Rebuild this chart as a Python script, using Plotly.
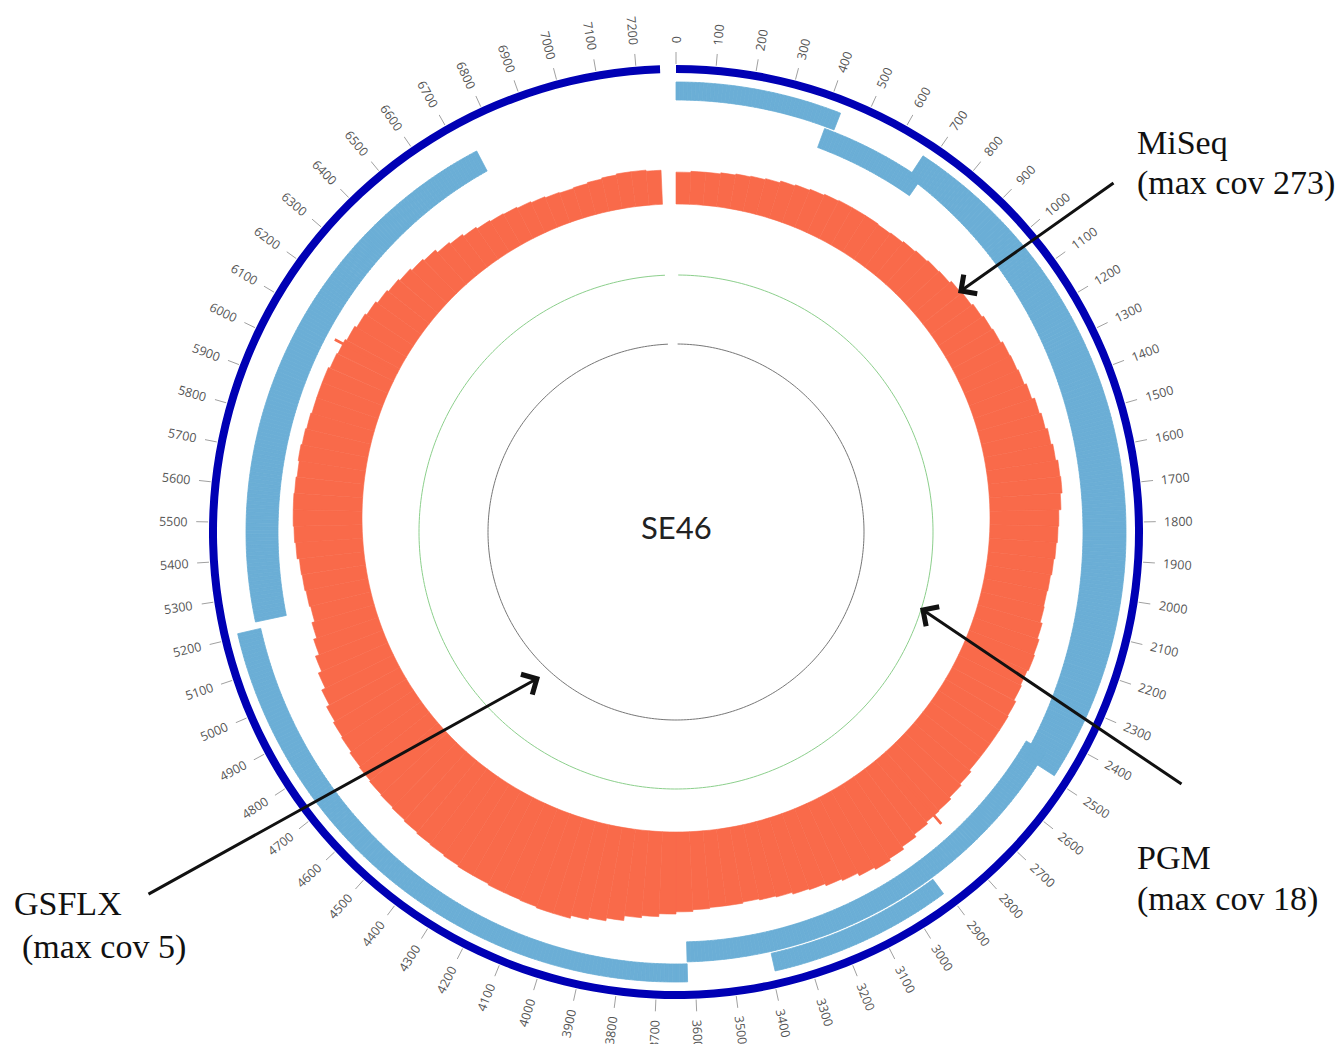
import numpy as np
import plotly.graph_objects as go

# ---------------- data ----------------
CIRCLE_BP = 7300          # bp represented by one full turn
GENOME_END = 7260         # end of the sequence (small gap before 0)

tick_positions = list(range(0, 7201, 100))
tick_labels = [str(v) for v in tick_positions]

band_starts = [0, 410, 675, 2450, 2910, 3620, 5230]
band_ends = [435, 705, 2490, 3620, 3392, 5210, 6740]
band_tracks = ["outer", "inner", "outer", "inner", "outer", "outer", "inner"]

# MiSeq coverage, 50 bp bins starting at 0
cov_bin_size = 50
miseq_cov = [87, 90, 90, 93, 96, 98, 101, 106, 109, 112,
             115, 117, 117, 117, 115, 117, 120, 123, 126, 128,
             134, 137, 142, 147, 150, 156, 158, 161, 167, 175,
             180, 186, 191, 197, 199, 194, 188, 186, 183, 180,
             177, 175, 177, 183, 188, 191, 188, 191, 197, 199,
             199, 199, 199, 205, 210, 216, 218, 224, 232, 240,
             246, 240, 232, 227, 221, 218, 213, 210, 207, 210,
             210, 213, 218, 224, 232, 238, 251, 259, 265, 273,
             273, 270, 268, 268, 265, 265, 262, 259, 257, 254,
             251, 248, 246, 243, 240, 235, 232, 227, 218, 207,
             197, 186, 177, 169, 172, 175, 177, 183, 186, 188,
             188, 186, 183, 186, 183, 180, 177, 177, 177, 172,
             169, 164, 158, 153, 147, 142, 137, 131, 126, 117,
             112, 106, 101, 98, 96, 93, 90, 87, 85, 87,
             90, 93, 96, 96, 93]
# isolated single-position peaks
spike_positions = [2820, 6035]
spike_cov = [248, 194]
MISEQ_MAX = 273
center_label = "SE46"

# ---------------- geometry / style ----------------
W, H = 1342, 1044
CX, CY = 676, 532          # centre of backbone / feature rings (px)
CY_COV = 518               # centre of the coverage ring (px)
R = 480
TRACK = {"outer": (432, 450), "inner": (410, 430)}
band_extra = [0, 2, 25, 3, 0, 6, 12]    # extra thickness towards the sides
COV_BASE, COV_SPAN = 314, 100
RED, LIGHTBLUE = "#F96A4A", "#6BAED6"


def deg(bp):
    return np.asarray(bp, dtype=float) / CIRCLE_BP * 360.0


def to_paper(r, theta_deg):
    t = np.radians(theta_deg)
    px = CX + r * np.sin(t)
    py = CY - r * np.cos(t)
    return px / W, 1 - py / H


fig = go.Figure()

# dark blue backbone
fig.add_trace(go.Barpolar(theta=[deg(GENOME_END / 2)], width=[deg(GENOME_END)],
                          base=[459], r=[8], marker=dict(color="#0000B4", line=dict(width=0)),
                          hoverinfo="skip"))

# light blue feature bands
for s, e, tr, ex in zip(band_starts, band_ends, band_tracks, band_extra):
    r0, r1 = TRACK[tr]
    edges = np.linspace(s, e, max(2, int((e - s) / 10) + 1))
    mids = (edges[:-1] + edges[1:]) / 2
    thick = (r1 - r0) + ex * np.sin(np.radians(deg(mids))) ** 2
    fig.add_trace(go.Barpolar(theta=deg(mids), width=deg(np.diff(edges)),
                              base=r1 - thick, r=thick,
                              marker=dict(color=LIGHTBLUE, line=dict(width=0.8, color=LIGHTBLUE)),
                              hoverinfo="skip"))

# PGM and GSFLX coverage (flat, very low)
th = np.linspace(deg(10), deg(GENOME_END - 10), 400)
fig.add_trace(go.Scatterpolar(theta=th, r=[257] * len(th), mode="lines",
                              line=dict(color="#8CCF8C", width=1), hoverinfo="skip"))
fig.add_trace(go.Scatterpolar(theta=th, r=[188] * len(th), mode="lines",
                              line=dict(color="#777777", width=1), hoverinfo="skip"))

# tick marks
tt, tr_ = [], []
for p in tick_positions:
    tt += [float(deg(p)), float(deg(p)), None]
    tr_ += [468, 480, None]
fig.add_trace(go.Scatterpolar(theta=tt, r=tr_, mode="lines", line=dict(color="#A0A0A0", width=1),
                              hoverinfo="skip", connectgaps=False))

# MiSeq coverage ring (own polar subplot, slightly higher centre)
starts = np.arange(len(miseq_cov)) * cov_bin_size
ends = np.minimum(starts + cov_bin_size, GENOME_END)
fig.add_trace(go.Barpolar(theta=deg((starts + ends) / 2), width=deg(ends - starts),
                          base=[COV_BASE] * len(starts),
                          r=[c / MISEQ_MAX * COV_SPAN for c in miseq_cov],
                          marker=dict(color=RED, line=dict(width=0.6, color=RED)), hoverinfo="skip",
                          subplot="polar2"))
fig.add_trace(go.Barpolar(theta=deg(spike_positions), width=[deg(8)] * len(spike_positions),
                          base=[COV_BASE] * len(spike_positions),
                          r=[c / MISEQ_MAX * COV_SPAN for c in spike_cov],
                          marker=dict(color=RED, line=dict(width=0)), hoverinfo="skip",
                          subplot="polar2"))

annotations = []
for p, lab in zip(tick_positions, tick_labels):
    a = float(deg(p))
    rr = 488 + 3.7 * len(lab)
    x, y = to_paper(rr, a)
    ang = a - 90 if a < 180 else a - 270
    annotations.append(dict(x=x, y=y, xref="paper", yref="paper", text=lab, showarrow=False,
                            textangle=ang, font=dict(family="Open Sans", size=12.5, color="#555555"),
                            xanchor="center", yanchor="middle"))

annotations.append(dict(x=CX / W, y=1 - 527 / H, xref="paper", yref="paper", text=center_label,
                        showarrow=False, font=dict(family="Lato", size=31, color="#222222"),
                        xanchor="center", yanchor="middle"))

serif = dict(family="Liberation Serif", size=34, color="#111111")
for txt, px, py in [("MiSeq", 1135, 142), ("(max cov 273)", 1135, 183),
                    ("PGM", 1135, 857), ("(max cov 18)", 1135, 899),
                    ("GSFLX", 12, 903), ("(max cov 5)", 20, 947)]:
    annotations.append(dict(x=px / W, y=1 - py / H, xref="paper", yref="paper", text=txt,
                            showarrow=False, font=serif, xanchor="left", yanchor="middle"))

for (tx, ty), (hx, hy) in [((1115, 182), (958, 293)), ((1183, 785), (920, 608)),
                           ((147, 895), (540, 677))]:
    annotations.append(dict(x=hx / W, y=1 - hy / H, xref="paper", yref="paper", text="",
                            showarrow=True, ax=tx - hx, ay=ty - hy, arrowhead=4, arrowsize=1.5,
                            arrowwidth=3, arrowcolor="#111111"))

polar_common = dict(bgcolor="rgba(0,0,0,0)", barmode="overlay", bargap=0, hole=0,
                    radialaxis=dict(range=[0, R], visible=False),
                    angularaxis=dict(visible=False, rotation=90, direction="clockwise"))

fig.update_layout(
    width=W, height=H, margin=dict(l=0, r=0, t=0, b=0),
    paper_bgcolor="white", plot_bgcolor="white", showlegend=False,
    polar=dict(domain=dict(x=[(CX - R) / W, (CX + R) / W], y=[1 - (CY + R) / H, 1 - (CY - R) / H]),
               **polar_common),
    polar2=dict(domain=dict(x=[(CX - R) / W, (CX + R) / W],
                            y=[1 - (CY_COV + R) / H, 1 - (CY_COV - R) / H]),
                **polar_common),
    annotations=annotations,
)

fig.write_html("out.html", config={"displayModeBar": False},
               post_script="document.body.style.margin='0';")
